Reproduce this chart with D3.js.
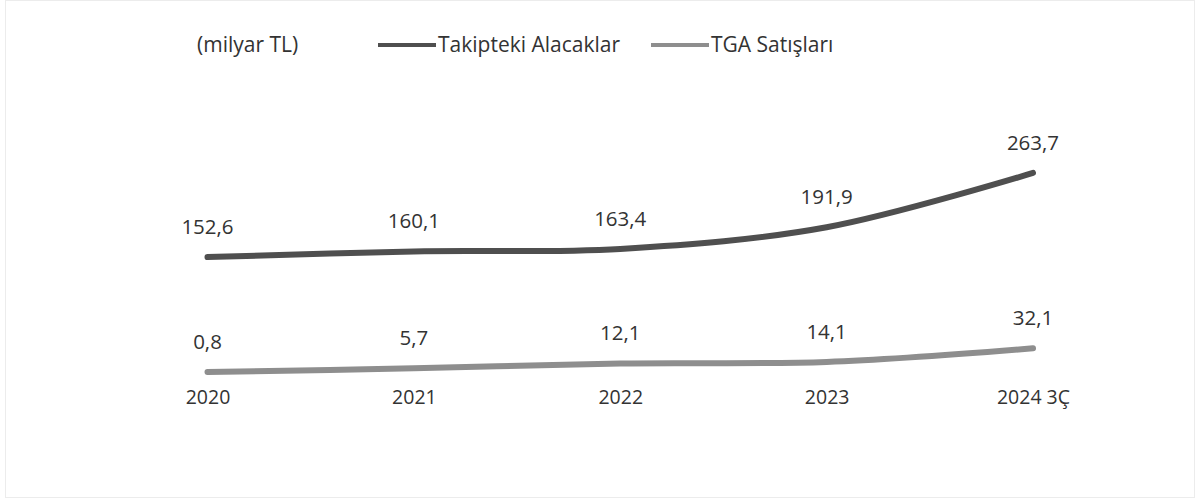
<!DOCTYPE html>
<html>
  <head>
    <meta charset="utf-8" />
    <title>Takipteki Alacaklar ve TGA Satışları</title>
    <style>
      body {
        margin: 0;
        background: #fff;
      }
      text {
        font-family: "Open Sans", sans-serif;
        fill: #333;
      }
    </style>
  </head>
  <body>
    <svg class="canvas"></svg>
    <script src="https://cdn.jsdelivr.net/npm/d3@7"></script>
    <script>
      // ---------------- data ----------------
      const categories = ["2020", "2021", "2022", "2023", "2024 3Ç"];
      const takipteki = [152.6, 160.1, 163.4, 191.9, 263.7];
      const tga = [0.8, 5.7, 12.1, 14.1, 32.1];
      const seriesNames = ["Takipteki Alacaklar", "TGA Satışları"];
      const unitLabel = "(milyar TL)";

      const width = 1199,
        height = 500;

      const svg = d3
        .select(".canvas")
        .attr("width", width)
        .attr("height", height);

      // faint scan border
      svg
        .append("rect")
        .attr("x", 5.5)
        .attr("y", 0.5)
        .attr("width", width - 10)
        .attr("height", height - 3)
        .attr("fill", "none")
        .attr("stroke", "#ececec");

      const x = d3.scalePoint().domain(categories).range([207.5, 1033]);
      const y = d3.scaleLinear().domain([0, 280]).range([372.6, 160.6]);

      const tr = d3.formatLocale({
        decimal: ",",
        thousands: ".",
        grouping: [3],
        currency: ["", " TL"],
      });
      const fmt = tr.format(".1f");

      const series = [
        { name: seriesNames[0], values: takipteki, color: "#4f4f4f" },
        { name: seriesNames[1], values: tga, color: "#8e8e8e" },
      ];

      const line = d3
        .line()
        .x((d, i) => x(categories[i]))
        .y((d) => y(d))
        .curve(d3.curveCatmullRom.alpha(0.5));

      //----------------lines----------------
      series.forEach((s) => {
        svg
          .append("path")
          .datum(s.values)
          .attr("d", line)
          .attr("fill", "none")
          .attr("stroke", s.color)
          .attr("stroke-width", 6)
          .attr("stroke-linecap", "round");

        svg
          .append("g")
          .selectAll("text")
          .data(s.values)
          .join("text")
          .attr("x", (d, i) => x(categories[i]))
          .attr("y", (d) => y(d) - 31)
          .attr("text-anchor", "middle")
          .attr("dominant-baseline", "central")
          .style("font-size", "20.5px")
          .text((d) => fmt(d));
      });

      //----------------x axis labels----------------
      const xAxis = d3.axisBottom(x).tickSize(0).tickPadding(0);
      const gx = svg
        .append("g")
        .attr("transform", "translate(0,390)")
        .call(xAxis);
      gx.select(".domain").remove();
      gx.selectAll("text")
        .attr("dy", "0.71em")
        .style("font-size", "19.5px")
        .style("font-family", "'Open Sans', sans-serif")
        .attr("fill", "#333");

      //----------------legend----------------
      svg
        .append("text")
        .attr("x", 197)
        .attr("y", 44)
        .attr("dominant-baseline", "central")
        .style("font-size", "21px")
        .text(unitLabel);

      const legendX = [378, 651];
      series.forEach((s, i) => {
        const g = svg
          .append("g")
          .attr("transform", `translate(${legendX[i]},45)`);
        g.append("line")
          .attr("x1", 0)
          .attr("x2", 58)
          .attr("stroke", s.color)
          .attr("stroke-width", 4);
        g.append("text")
          .attr("x", 60)
          .attr("y", -1)
          .attr("dominant-baseline", "central")
          .style("font-size", "21px")
          .text(s.name);
      });
    </script>
  </body>
</html>
